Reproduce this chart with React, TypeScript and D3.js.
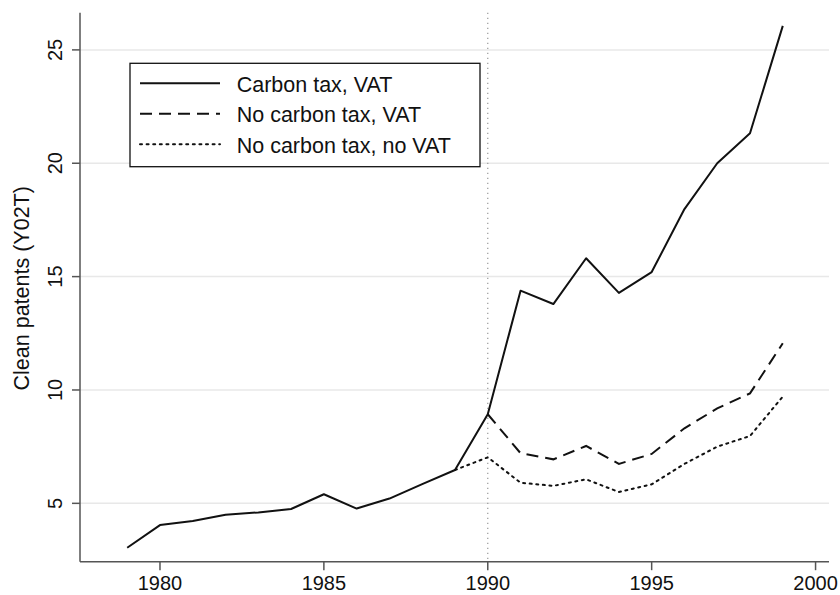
import React from "react";
import * as d3 from "d3";

const years = [1979,1980,1981,1982,1983,1984,1985,1986,1987,1988,1989,1990,1991,1992,1993,1994,1995,1996,1997,1998,1999];
const carbonTaxVAT = [3.04,4.04,4.22,4.5,4.6,4.75,5.4,4.77,5.21,5.85,6.47,8.93,14.38,13.79,15.81,14.28,15.2,17.98,20.0,21.32,26.06];
const noCarbonTaxVAT = [3.04,4.04,4.22,4.5,4.6,4.75,5.4,4.77,5.21,5.85,6.47,8.93,7.21,6.94,7.53,6.74,7.18,8.31,9.19,9.85,12.06];
const noCarbonTaxNoVAT = [3.04,4.04,4.22,4.5,4.6,4.75,5.4,4.77,5.21,5.85,6.47,7.03,5.91,5.77,6.06,5.5,5.84,6.74,7.5,7.97,9.71];
const xTicks = [1980,1985,1990,1995,2000];
const yTicks = [5,10,15,20,25];
const seriesNames = ["Carbon tax, VAT","No carbon tax, VAT","No carbon tax, no VAT"];
const refYear = 1990;
const yLabel = "Clean patents (Y02T)";

const FONT = "'Liberation Sans', Arial, Helvetica, sans-serif";

export default function App() {
  const W = 840, H = 595;
  const left = 80, right = 829, top = 12.7, bottom = 561.7;
  const x = d3.scaleLinear().domain([1977.56, 2000.41]).range([left, right]);
  const y = d3.scaleLinear().domain([2.426, 26.64]).range([bottom, top]);
  const line = (vals: number[], from = 0) =>
    d3.line<number>()
      .x((_, i) => x(years[i + from]))
      .y((v) => y(v))(vals.slice(from)) || "";

  const styles = [
    { dash: undefined as string | undefined, w: 2 },
    { dash: "12,7", w: 2 },
    { dash: "2,4.6", w: 2 },
  ];
  const data = [carbonTaxVAT, noCarbonTaxVAT, noCarbonTaxNoVAT];

  const lgX = 130, lgY = 63.3, lgW = 350, lgH = 103.4;
  const rowY = [83.3, 113.8, 144.3];

  return (
    <svg width={W} height={H} style={{ position: "absolute", left: 0, top: 0, background: "#fff" }}>
      {yTicks.map((t) => (
        <line key={"g" + t} x1={left} x2={right} y1={y(t)} y2={y(t)} stroke="#e8e8e8" strokeWidth={1.5} />
      ))}
      <line x1={x(refYear)} x2={x(refYear)} y1={top} y2={bottom} stroke="#999" strokeWidth={1.2} strokeDasharray="1.4,3.6" />
      {/* axes */}
      <line x1={left} x2={left} y1={top} y2={bottom} stroke="#555" strokeWidth={1.5} />
      <line x1={left} x2={right} y1={bottom} y2={bottom} stroke="#555" strokeWidth={1.5} />
      {yTicks.map((t) => (
        <g key={"yt" + t}>
          <line x1={left - 8} x2={left} y1={y(t)} y2={y(t)} stroke="#555" strokeWidth={1.5} />
          <text transform={`translate(${61.5},${y(t)}) rotate(-90)`} textAnchor="middle" fontFamily={FONT} fontSize={20} fill="#111">{t}</text>
        </g>
      ))}
      {xTicks.map((t) => (
        <g key={"xt" + t}>
          <line x1={x(t)} x2={x(t)} y1={bottom} y2={bottom + 8.5} stroke="#555" strokeWidth={1.5} />
          <text x={x(t)} y={590} textAnchor="middle" fontFamily={FONT} fontSize={20} fill="#111">{t}</text>
        </g>
      ))}
      <text transform={`translate(${29},${288.3}) rotate(-90)`} textAnchor="middle" fontFamily={FONT} fontSize={21.5} fill="#111">{yLabel}</text>
      {/* series: draw dotted, dashed, then solid */}
      <path d={line(noCarbonTaxNoVAT, 10)} fill="none" stroke="#111" strokeWidth={styles[2].w} strokeDasharray={styles[2].dash} strokeLinecap="round" />
      <path d={line(noCarbonTaxVAT, 11)} fill="none" stroke="#111" strokeWidth={styles[1].w} strokeDasharray={styles[1].dash} />
      <path d={line(carbonTaxVAT)} fill="none" stroke="#111" strokeWidth={styles[0].w} strokeLinejoin="round" />
      {/* legend */}
      <rect x={lgX} y={lgY} width={lgW} height={lgH} fill="#fff" stroke="#111" strokeWidth={1.3} />
      {seriesNames.map((n, i) => (
        <g key={n}>
          <line x1={140} x2={220} y1={rowY[i]} y2={rowY[i]} stroke="#111" strokeWidth={styles[i].w} strokeDasharray={styles[i].dash} strokeLinecap={i === 2 ? "round" : "butt"} />
          <text x={236.7} y={rowY[i] + 8.5} fontFamily={FONT} fontSize={21.5} fill="#111">{n}</text>
        </g>
      ))}
      {data.length === 0 ? null : null}
    </svg>
  );
}
